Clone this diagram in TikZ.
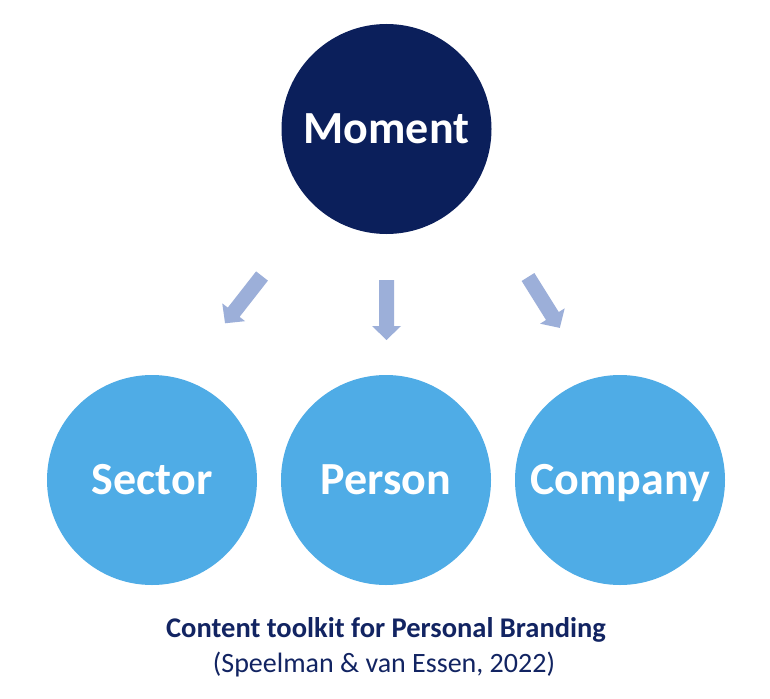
\documentclass[tikz,border=0pt]{standalone}
\usepackage{fontspec}
\setmainfont{Carlito}
\definecolor{navy}{RGB}{11,31,91}
\definecolor{skyblue}{RGB}{79,172,230}
\definecolor{arrowfill}{RGB}{156,175,217}
\definecolor{captionblue}{RGB}{18,36,98}
\begin{document}
\begin{tikzpicture}[x=1pt,y=-1pt,
  bubble/.style={circle, minimum size=210pt, inner sep=0pt, text=white, text height=29pt, text depth=0pt, font=\fontsize{46}{54}\selectfont\bfseries},
  captiontext/.style={text=captionblue, inner sep=0pt, text height=18pt, text depth=0pt},
  blockarrow/.pic={\fill[arrowfill] (0,-7.5) -- (46,-7.5) -- (46,-14.5) -- (60,0) -- (46,14.5) -- (46,7.5) -- (0,7.5) -- cycle;}]
\useasboundingbox[fill=white] (0,0) rectangle (770,698);
\node[bubble, fill=navy] (moment) at (386.5,129) {Moment};
\node[bubble, fill=skyblue] (sector) at (152,480) {Sector};
\node[bubble, fill=skyblue] (person) at (386,480) {Person};
\node[bubble, fill=skyblue] (company) at (620,480) {Company};
\pic[rotate=-128] at (262,276) {blockarrow};
\pic[rotate=-90] at (386.5,280) {blockarrow};
\pic[rotate=-58] at (528,277) {blockarrow};
\node[captiontext, font=\fontsize{28.5}{34}\selectfont\bfseries] (title) at (386,628) {Content toolkit for Personal Branding};
\node[captiontext, font=\fontsize{28}{34}\selectfont] (cite) at (384,663) {(Speelman \& van Essen, 2022)};
\end{tikzpicture}
\end{document}
